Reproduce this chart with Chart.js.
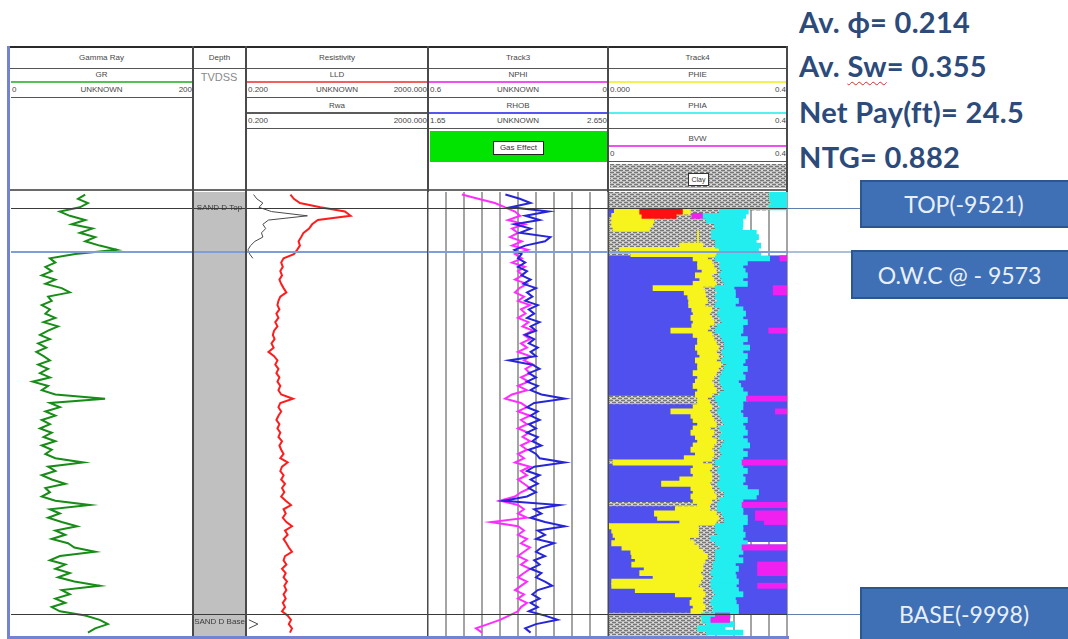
<!DOCTYPE html>
<html>
<head>
<meta charset="utf-8">
<script src="https://cdn.jsdelivr.net/npm/chart.js@4.4.1/dist/chart.umd.min.js"></script>
<style>
  body { margin: 0; background: #fff; }
  #page { position: relative; width: 1068px; height: 639px; overflow: hidden; background: #fff;
          font-family: 'Liberation Sans', Arial, sans-serif; }
  .stat { position: absolute; left: 799px; font: bold 29px Lato, 'Open Sans', sans-serif; line-height: 34px;
          letter-spacing: 0.3px; color: #2c4a7a; white-space: nowrap; }
  .box { position: absolute; background: #3f6fb4; border: 2px solid #2d5690; box-sizing: border-box;
         color: #e9eff8; font: 23px Lato, 'Open Sans', sans-serif; display: flex; align-items: center;
         justify-content: center; white-space: nowrap; }
</style>
</head>
<body>
<div id="page"></div>
<script>
// ---------------- well data (depth in ft TVDSS) ----------------
const DEPTH = [
  9505,9510,9515,9520,9525,9530,9535,9540,9545,9550,
  9555,9560,9565,9570,9575,9580,9585,9590,9595,9600,
  9605,9610,9615,9620,9625,9630,9635,9640,9645,9650,
  9655,9660,9665,9670,9675,9680,9685,9690,9695,9700,
  9705,9710,9715,9720,9725,9730,9735,9740,9745,9750,
  9755,9760,9765,9770,9775,9780,9785,9790,9795,9800,
  9805,9810,9815,9820,9825,9830,9835,9840,9845,9850,
  9855,9860,9865,9870,9875,9880,9885,9890,9895,9900,
  9905,9910,9915,9920,9925,9930,9935,9940,9945,9950,
  9955,9960,9965,9970,9975,9980,9985,9990,9995,10000,
  10005,10010,10015,10020
];

const TOP_DEPTH = 9521;
const OWC_DEPTH = 9573;
const BASE_DEPTH = 9998;

// Gamma ray (API)
const GR = [
  82,74,85,76,54,65,82,67,90,76,
  93,82,98,117,71,43,49,38,45,34,
  49,38,56,65,41,45,34,43,38,49,
  36,52,41,32,43,30,39,28,36,43,
  30,41,32,43,24,41,34,49,104,43,
  54,38,49,34,43,32,45,36,49,34,
  45,38,49,80,41,49,34,45,60,38,
  43,34,49,87,43,54,41,56,73,49,
  60,45,63,70,93,54,43,60,49,65,
  52,70,98,56,65,49,60,45,54,82,
  98,107,93,85
];

// Deep laterolog resistivity (ohm.m)
const LLD = [
  1.85,2.2,3.0,8.5,30,40,7.5,5.6,4.8,3.6,
  3.2,2.8,3.0,2.6,2.2,1.3,1.15,1.25,1.1,1.2,
  1.05,1.15,1.3,1.5,1.1,1.0,0.95,1.05,0.9,1.0,
  0.85,0.95,0.8,0.75,0.82,0.7,0.78,0.6,0.8,0.95,
  0.85,1.0,0.9,1.05,0.95,1.1,1.0,1.15,2.1,1.1,
  1.0,1.15,1.0,0.9,1.05,0.95,1.1,1.0,1.2,1.05,
  1.15,1.3,1.1,1.6,1.2,1.1,1.3,1.15,1.4,1.2,
  1.35,1.15,1.45,1.9,1.3,1.45,1.25,1.5,2.0,1.4,
  1.6,1.3,1.5,1.7,2.0,1.4,1.3,1.5,1.2,1.45,
  1.3,1.55,1.35,1.5,1.3,1.45,1.25,1.4,1.2,1.6,
  1.9,1.7,2.0,1.8
];

// Apparent water resistivity (ohm.m), only computed near the zone boundaries
const RWA_DEPTH = [9505,9510,9515,9520,9525,9530,9535,9540,9545,9550,9555,9560,9565,9570,9575,9580,9585,10005,10010,10015];
const RWA = [0.28,0.33,0.45,0.37,0.7,4.4,0.6,0.45,0.52,0.42,0.45,0.3,0.24,0.21,0.23,0.27,null,0.22,0.35,0.22];

// Neutron porosity (v/v)
const NPHI = [
  0.487,0.433,0.377,0.343,0.31,0.293,0.333,0.277,0.32,0.30,
  0.327,0.287,0.32,0.267,0.31,0.287,0.32,0.277,0.30,0.285,
  0.31,0.27,0.295,0.31,0.28,0.30,0.26,0.29,0.275,0.30,
  0.265,0.285,0.25,0.28,0.26,0.29,0.27,0.30,0.26,0.28,
  0.25,0.275,0.26,0.29,0.265,0.30,0.27,0.32,0.343,0.29,
  0.27,0.30,0.26,0.29,0.27,0.30,0.265,0.285,0.26,0.29,
  0.27,0.30,0.28,0.31,0.26,0.29,0.27,0.30,0.28,0.26,
  0.29,0.31,0.36,0.30,0.28,0.30,0.27,0.39,0.30,0.28,
  0.30,0.27,0.29,0.26,0.28,0.30,0.27,0.29,0.26,0.28,
  0.30,0.27,0.29,0.31,0.28,0.30,0.27,0.29,0.30,0.33,
  0.36,0.40,0.44,0.42
];

// Bulk density (g/cc)
const RHOB = [
  2.08,2.16,2.22,2.11,2.32,2.19,2.27,2.13,2.22,2.16,
  2.33,2.30,2.19,2.13,2.17,2.15,2.19,2.15,2.20,2.17,
  2.22,2.18,2.25,2.20,2.23,2.19,2.26,2.21,2.24,2.20,
  2.27,2.22,2.25,2.19,2.24,2.21,2.26,2.22,2.25,2.10,
  2.23,2.27,2.21,2.25,2.20,2.26,2.22,2.28,2.41,2.24,
  2.20,2.26,2.22,2.27,2.21,2.25,2.20,2.26,2.23,2.28,
  2.21,2.25,2.27,2.41,2.24,2.20,2.27,2.22,2.26,2.21,
  2.25,2.20,2.07,2.38,2.24,2.28,2.22,2.30,2.41,2.26,
  2.30,2.25,2.35,2.28,2.25,2.30,2.24,2.27,2.22,2.28,
  2.25,2.30,2.34,2.26,2.23,2.27,2.22,2.26,2.21,2.30,
  2.37,2.25,2.19,2.22
];

// Volumetric track (0 - 0.4): hydrocarbon band and apparent-porosity band edges
const HC_FROM = [
  .362,.362,.365,.36,.013,.007,.007,.007,.01,.20,
  .20,.20,.16,.025,.05,.19,.20,.20,.21,.195,
  .205,.19,.10,.17,.178,.18,.18,.187,.19,.185,
  .19,.187,.14,.19,.20,.20,.195,.20,.205,.195,
  .20,.20,.19,.20,.195,.19,.20,.195,.20,.20,
  .19,.14,.185,.19,.20,.19,.185,.195,.20,.19,
  .185,.195,.17,.01,.19,.185,.19,.16,.119,.185,
  .19,.185,.19,.20,.15,.103,.11,.16,.00,.007,
  .01,.015,.007,.03,.05,.052,.06,.052,.08,.07,
  .10,.007,.007,.06,.15,.187,.183,.19,.185,.209,
  .209,.22,.20,.22
];
const HC_TO = [
  .362,.362,.365,.36,.182,.11,.10,.097,.09,.20,
  .20,.20,.21,.245,.24,.22,.23,.235,.24,.23,
  .235,.24,.21,.215,.216,.22,.215,.23,.225,.23,
  .235,.225,.22,.23,.235,.24,.245,.24,.245,.24,
  .25,.245,.24,.235,.23,.235,.24,.23,.22,.225,
  .23,.225,.23,.235,.24,.225,.235,.23,.24,.235,
  .23,.235,.23,.21,.23,.225,.23,.23,.225,.23,
  .235,.24,.23,.225,.225,.24,.245,.24,.20,.20,
  .20,.18,.19,.20,.21,.22,.215,.21,.21,.205,
  .21,.205,.20,.21,.215,.21,.21,.215,.21,.209,
  .209,.22,.20,.22
];
const PHIA_FROM = [
  .362,.362,.365,.36,.249,.21,.22,.238,.24,.231,
  .231,.24,.24,.249,.245,.24,.25,.25,.255,.25,
  .255,.26,.24,.245,.24,.245,.24,.25,.245,.25,
  .255,.245,.24,.25,.255,.26,.26,.255,.26,.255,
  .265,.26,.255,.25,.25,.255,.26,.25,.24,.245,
  .25,.245,.25,.255,.26,.25,.255,.25,.26,.255,
  .25,.255,.25,.24,.25,.245,.25,.25,.245,.25,
  .26,.26,.25,.245,.245,.255,.26,.26,.24,.24,
  .245,.23,.24,.25,.24,.24,.24,.235,.235,.23,
  .235,.23,.23,.235,.24,.235,.23,.235,.235,.209,
  .21,.22,.20,.22
];
const PHIA_TO = [
  .40,.40,.40,.40,.312,.306,.30,.30,.299,.33,
  .335,.33,.34,.335,.34,.36,.31,.30,.305,.31,
  .30,.31,.28,.283,.283,.29,.283,.30,.306,.30,
  .31,.30,.30,.295,.31,.30,.315,.30,.31,.305,
  .30,.31,.30,.305,.29,.295,.30,.31,.31,.30,
  .30,.295,.30,.31,.30,.305,.31,.30,.31,.315,
  .30,.31,.30,.30,.30,.31,.30,.305,.30,.31,
  .335,.33,.30,.30,.30,.30,.31,.31,.30,.30,
  .305,.30,.31,.30,.30,.29,.30,.283,.29,.283,
  .285,.29,.285,.29,.30,.283,.285,.29,.29,.272,
  .27,.28,.26,.30
];
// Depth intervals where the left fill is shale, and where no water fill shows on the right
const SHALE_LEFT = [[9505,9520],[9535,9575],[9745,9750],[9820,9820],[9870,9870],[9895,9895],[10000,10020]];
const OPEN_RIGHT = [[9505,9575],[9915,9915],[10000,10020]];
// Gas flag and BVW patches: [depth, from, to]
const GAS_FLAG = [[9525,0.07,0.164],[9530,0.075,0.15]];
const BVW_PATCH = [
  [9530,.187,.209],[9580,.385,.4],[9615,.37,.4],[9620,.37,.4],[9665,.36,.4],[9745,.31,.4],
  [9760,.375,.4],[9820,.30,.4],[9870,.30,.4],[9880,.33,.4],[9885,.33,.4],[9890,.35,.4],
  [9920,.30,.4],[9940,.335,.4],[9945,.335,.4],[9950,.335,.4],[9965,.335,.4],[10000,.24,.27],[10005,.23,.27]
];

const STATS = ['Av. \u03D5= 0.214', 'Av. Sw= 0.355', 'Net Pay(ft)= 24.5', 'NTG= 0.882'];
const ZONE_BOXES = [
  {text: 'TOP(-9521)', left: 860, top: 180, height: 48},
  {text: 'O.W.C @ - 9573', left: 851, top: 250, height: 49},
  {text: 'BASE(-9998)', left: 860, top: 587, height: 54}
];

// ---------------- layout helpers ----------------
const page = document.getElementById('page');
const COLS = [10, 193, 246, 428, 608, 787];
const DATA_TOP = 192, DATA_H = 444;

function el(css, text) {
  const e = document.createElement('div');
  e.style.cssText = 'position:absolute;' + css;
  if (text != null) e.textContent = text;
  page.appendChild(e);
  return e;
}
function hline(x0, x1, y, h, c) { el(`left:${x0}px;top:${y}px;width:${x1 - x0}px;height:${h}px;background:${c}`); }
function vline(x, y0, y1, w, c) { el(`left:${x}px;top:${y0}px;width:${w}px;height:${y1 - y0}px;background:${c}`); }
function txt(text, x, cy, align, extra) {
  const w = 120;
  const left = align === 'center' ? x - w / 2 : align === 'right' ? x - w : x;
  el(`left:${left}px;width:${w}px;top:${cy - 5}px;height:10px;line-height:10px;text-align:${align};` +
     `font-size:8px;color:#474747;white-space:nowrap;${extra || ''}`, text);
}

function hatchTile() {
  const c = document.createElement('canvas');
  c.width = 6; c.height = 4;
  const g = c.getContext('2d');
  g.fillStyle = '#b9b9b9'; g.fillRect(0, 0, 6, 4);
  g.fillStyle = '#777'; g.fillRect(0, 0, 4, 1); g.fillRect(3, 2, 3, 1); g.fillRect(0, 2, 1, 1);
  g.fillStyle = '#dedede'; g.fillRect(4, 0, 2, 1); g.fillRect(1, 2, 2, 1);
  return c;
}

// ---------------- header panel ----------------
['Gamma Ray', 'Depth', 'Resistivity', 'Track3', 'Track4'].forEach((t, i) =>
  txt(t, (COLS[i] + COLS[i + 1]) / 2, 58, 'center'));
hline(10, 787, 68, 1, '#555');

const CURVE_HEADERS = [
  {col: 0, row: 0, name: 'GR',   color: '#55c055', lo: '0',     unit: 'UNKNOWN', hi: '200'},
  {col: 2, row: 0, name: 'LLD',  color: '#f06060', lo: '0.200', unit: 'UNKNOWN', hi: '2000.000'},
  {col: 2, row: 1, name: 'Rwa',  color: '#5a5a5a', lo: '0.200', unit: '',        hi: '2000.000'},
  {col: 3, row: 0, name: 'NPHI', color: '#f050f0', lo: '0.6',   unit: 'UNKNOWN', hi: '0'},
  {col: 3, row: 1, name: 'RHOB', color: '#5555f0', lo: '1.65',  unit: 'UNKNOWN', hi: '2.650'},
  {col: 4, row: 0, name: 'PHIE', color: '#f4f055', lo: '0.000', unit: '',        hi: '0.4'},
  {col: 4, row: 1, name: 'PHIA', color: '#55f0f0', lo: '',      unit: '',        hi: '0.4'},
  {col: 4, row: 2, name: 'BVW',  color: '#f050f0', lo: '0',     unit: '',        hi: '0.4'}
];
const ROW_TOP = [68, 99, 132];
CURVE_HEADERS.forEach(h => {
  const x0 = COLS[h.col], x1 = COLS[h.col + 1], top = ROW_TOP[h.row];
  txt(h.name, (x0 + x1) / 2, top + 7, 'center');
  hline(x0 + 1, x1, top + 13, 2, h.color);
  txt(h.lo, x0 + 2, top + 22, 'left');
  txt(h.unit, (x0 + x1) / 2, top + 22, 'center');
  txt(h.hi, x1 - 1, top + 22, 'right');
  hline(x0 + 1, x1, top + 29, 1, '#555');
});
txt('TVDSS', 219, 77, 'center', 'font-size:11px;color:#8a8a8a;');

// Gas effect legend and clay legend
el('left:430px;top:131px;width:177px;height:31px;background:#00e400');
el('left:493px;top:141px;width:49px;height:12px;background:#fff;border:1px solid #222;font-size:8px;line-height:12px;text-align:center;color:#333', 'Gas Effect');
const clay = el('left:610px;top:164px;width:176px;height:24px;');
clay.style.backgroundImage = `url(${hatchTile().toDataURL()})`;
el('left:688px;top:173px;width:19px;height:11px;background:#fff;border:1px solid #333;font-size:7px;line-height:11px;text-align:center;color:#333', 'Clay');

// frame, separators
hline(10, 788, 46, 2, '#2a2a2a');
hline(10, 788, 189, 2, '#6a6a6a');
[192, 245, 427, 607, 786].forEach(x => vline(x, 46, 637, 2, '#4a4a4a'));
vline(7, 46, 639, 3, '#7383cf');
hline(7, 789, 636, 3, '#7383cf');

// ---------------- charts ----------------
const MARKERS = [
  {depth: TOP_DEPTH,  color: '#3a3a3a', width: 1, reach: 73},
  {depth: OWC_DEPTH,  color: '#7e9ed8', width: 2, reach: 65},
  {depth: BASE_DEPTH, color: '#3a3a3a', width: 1, reach: 73}
];
const markerPlugin = {
  id: 'zoneMarkers',
  afterDatasetsDraw(chart, _a, opts) {
    const {ctx, chartArea, scales} = chart;
    ctx.save();
    MARKERS.forEach(m => {
      const py = Math.round(scales.y.getPixelForValue(m.depth)) + (m.width % 2 ? 0.5 : 0);
      ctx.strokeStyle = m.color; ctx.lineWidth = m.width;
      ctx.beginPath(); ctx.moveTo(chartArea.left, py); ctx.lineTo(chartArea.right, py); ctx.stroke();
      if (opts && opts.connect) {
        ctx.strokeStyle = '#5f7fae'; ctx.lineWidth = 1;
        ctx.beginPath(); ctx.moveTo(chartArea.right, py); ctx.lineTo(chartArea.right + m.reach, py); ctx.stroke();
      }
    });
    ctx.restore();
  }
};

function makeCanvas(x, w) {
  const c = document.createElement('canvas');
  c.width = w; c.height = DATA_H;
  c.style.cssText = `position:absolute;left:${x}px;top:${DATA_TOP}px;width:${w}px;height:${DATA_H}px`;
  page.appendChild(c);
  return c;
}
const depthAxis = () => ({type: 'linear', min: 9502, max: 10024, reverse: true, display: false, offset: false, grace: 0});
const gridAxis = () => ({
  type: 'linear', min: 0, max: 10, position: 'bottom', offset: false,
  ticks: {display: false, stepSize: 1}, border: {display: false},
  grid: {color: '#a4a4a4', lineWidth: 2, drawTicks: false, offset: false}
});
const baseOptions = (scales, extra) => Object.assign({
  responsive: false, devicePixelRatio: 1, animation: false, indexAxis: 'y',
  layout: {padding: 0},
  plugins: {legend: {display: false}, tooltip: {enabled: false}},
  scales
}, extra || {});
function curve(values, depths, color, width, xAxisID) {
  return {
    data: depths.map((d, i) => ({x: values[i], y: d})),
    borderColor: color, borderWidth: width, pointRadius: 0, tension: 0,
    fill: false, spanGaps: false, xAxisID, yAxisID: 'y'
  };
}

// Gamma ray track
new Chart(makeCanvas(11, 181), {
  type: 'line',
  data: {datasets: [curve(GR, DEPTH, '#178c17', 2, 'x')]},
  options: baseOptions({y: depthAxis(), x: {type: 'linear', min: 0, max: 200, display: false}}),
  plugins: [markerPlugin]
});

// Depth track with zone tops
const ZONES = [{name: 'SAND D Top', depth: TOP_DEPTH, dy: 0}, {name: 'SAND D Base', depth: BASE_DEPTH, dy: 8}];
const depthTrackPlugin = {
  id: 'depthTrack',
  beforeDraw(chart) {
    const {ctx, chartArea: a} = chart;
    ctx.fillStyle = '#c0c0c0';
    ctx.fillRect(a.left, a.top, a.right - a.left, a.bottom - a.top);
  },
  afterDraw(chart) {
    const {ctx, chartArea: a, scales} = chart;
    ctx.save();
    ctx.font = '8px "Liberation Sans", Arial, sans-serif';
    ctx.fillStyle = '#3a3a3a'; ctx.textAlign = 'center'; ctx.textBaseline = 'middle';
    ZONES.forEach(z => ctx.fillText(z.name, (a.left + a.right) / 2, scales.y.getPixelForValue(z.depth) + z.dy));
    ctx.restore();
  }
};
new Chart(makeCanvas(194, 51), {
  type: 'line',
  data: {datasets: []},
  options: baseOptions({y: depthAxis(), x: {type: 'linear', min: 0, max: 1, display: false}}),
  plugins: [depthTrackPlugin, markerPlugin]
});

// Resistivity track
new Chart(makeCanvas(247, 180), {
  type: 'line',
  data: {datasets: [
    curve(RWA, RWA_DEPTH, '#4a4a4a', 1, 'x'),
    curve(LLD, DEPTH, '#ff1c1c', 2, 'x')
  ]},
  options: baseOptions({y: depthAxis(), x: {type: 'logarithmic', min: 0.2, max: 2000, display: false}}),
  plugins: [markerPlugin]
});

// Track 3: neutron / density
new Chart(makeCanvas(428, 180), {
  type: 'line',
  data: {datasets: [
    curve(RHOB, DEPTH, '#2626d6', 2, 'xR'),
    curve(NPHI, DEPTH, '#ff2cff', 2, 'xN')
  ]},
  options: baseOptions({
    y: depthAxis(),
    xg: gridAxis(),
    xN: {type: 'linear', min: 0, max: 0.6, reverse: true, display: false},
    xR: {type: 'linear', min: 1.65, max: 2.65, display: false}
  }),
  plugins: [markerPlugin]
});

// Track 4: volumetric fills drawn as floating horizontal bars
const c4 = makeCanvas(609, 253);
const HATCH = c4.getContext('2d').createPattern(hatchTile(), 'repeat');
const inZones = (d, zones) => zones.some(([a, b]) => d >= a && d <= b);
const WATER = '#5050ee';
function band(data, color, order) {
  return {
    data, backgroundColor: color, borderWidth: 0, order, grouped: false, inflateAmount: 0.8,
    barPercentage: 1, categoryPercentage: 1, xAxisID: 'x', yAxisID: 'y'
  };
}
new Chart(c4, {
  type: 'bar',
  data: {datasets: [
    band(BVW_PATCH.map(([d, a, b]) => ({y: d, x: [a, b]})), '#f020f0', 1),
    band(GAS_FLAG.map(([d, a, b]) => ({y: d, x: [a, b]})), '#ff1010', 2),
    band(DEPTH.map((d, i) => ({y: d, x: [PHIA_FROM[i], PHIA_TO[i]]})), '#22eef0', 3),
    band(DEPTH.map((d, i) => ({y: d, x: [HC_FROM[i], HC_TO[i]]})), '#f6f41c', 4),
    band(DEPTH.map((d, i) => ({y: d, x: [PHIA_TO[i], 0.4]})),
         DEPTH.map(d => inZones(d, OPEN_RIGHT) ? 'rgba(0,0,0,0)' : WATER), 5),
    band(DEPTH.map((d, i) => ({y: d, x: [0, HC_FROM[i]]})),
         DEPTH.map(d => inZones(d, SHALE_LEFT) ? HATCH : WATER), 6),
    band(DEPTH.map((d, i) => ({y: d, x: [0, PHIA_FROM[i]]})), HATCH, 7)
  ]},
  options: baseOptions({
    y: depthAxis(),
    x: {type: 'linear', min: 0, max: 0.4, display: false, offset: false},
    xg: gridAxis()
  }, {layout: {padding: {right: 75}}, plugins: {legend: {display: false}, tooltip: {enabled: false}, zoneMarkers: {connect: true}}}),
  plugins: [markerPlugin]
});

// ---------------- summary text and zone boxes ----------------
const STAT_TOPS = [5, 49, 95, 140];
STATS.forEach((s, i) => {
  const d = el('', null);
  d.className = 'stat';
  d.style.top = STAT_TOPS[i] + 'px';
  if (s.indexOf('Sw') >= 0) {
    const [a, b] = s.split('Sw');
    d.append(a);
    const u = document.createElement('span');
    u.textContent = 'Sw';
    u.style.cssText = 'text-decoration:underline wavy #d03030;text-decoration-thickness:1px;text-underline-offset:4px';
    d.append(u, b);
  } else {
    d.textContent = s;
  }
});
ZONE_BOXES.forEach(b => {
  const d = el(`left:${b.left}px;top:${b.top}px;width:${1072 - b.left}px;height:${b.height}px;`, b.text);
  d.className = 'box';
  d.style.paddingRight = '4px';
});
</script>
</body>
</html>
